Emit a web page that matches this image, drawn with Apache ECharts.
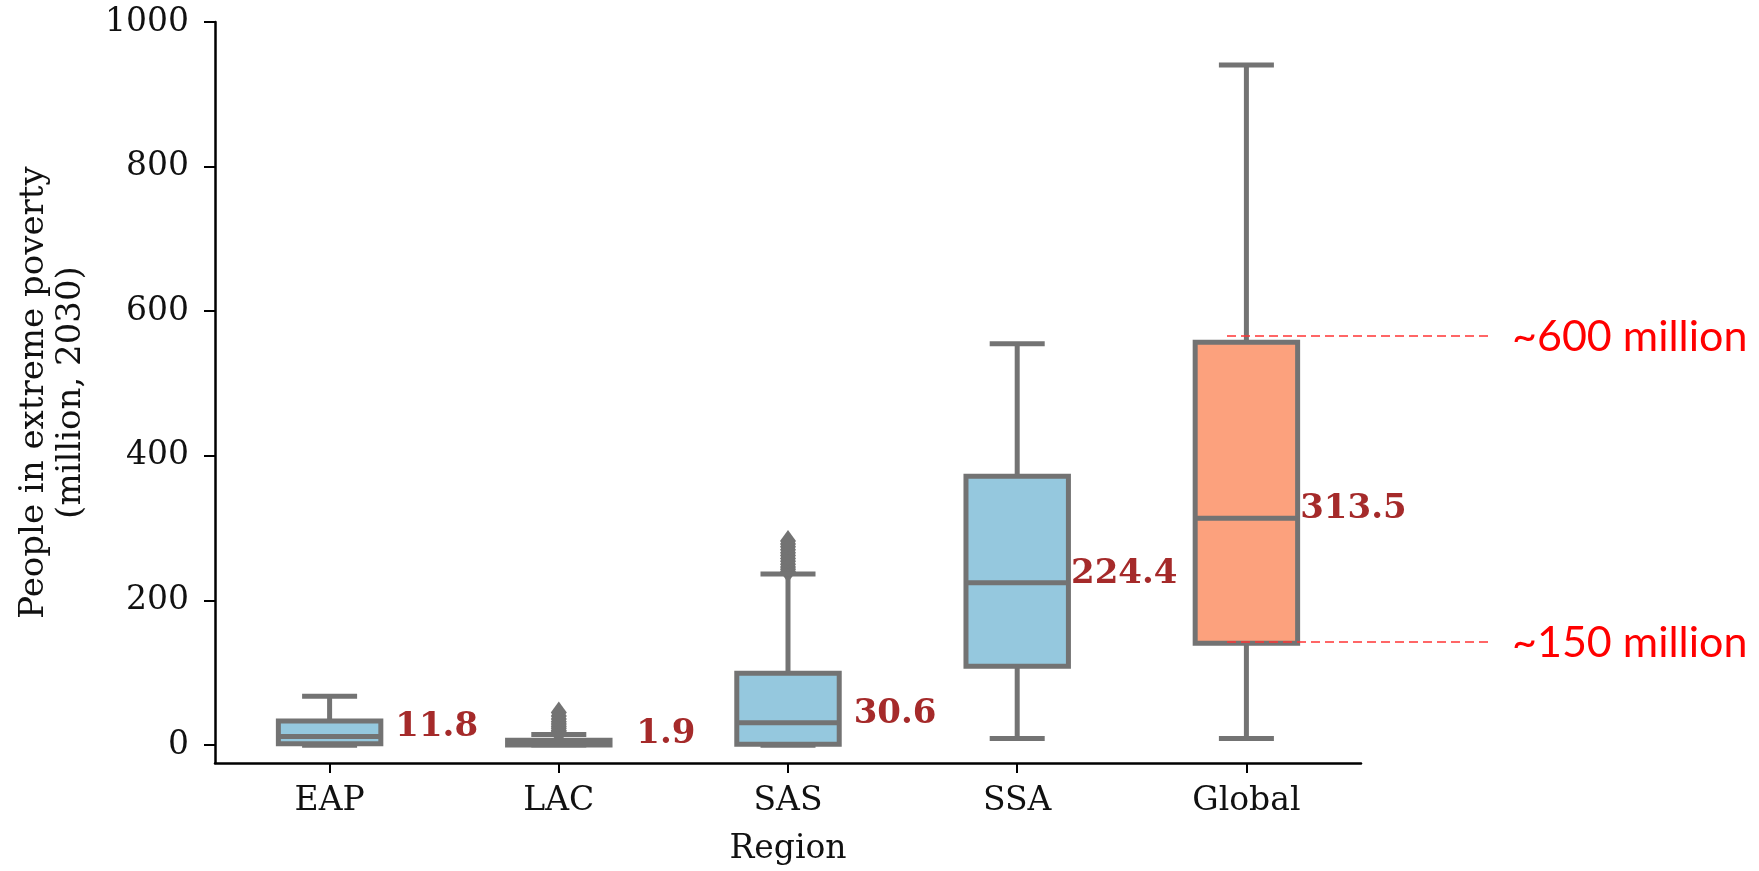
<!DOCTYPE html>
<html>
<head>
<meta charset="utf-8">
<script src="https://cdn.jsdelivr.net/npm/echarts@6/dist/echarts.min.js"></script>
<style>
html,body{margin:0;padding:0;background:#ffffff;}
#chart{width:1759px;height:871px;}
</style>
</head>
<body>
<div id="chart"></div>
<script>
// ---- data ----
const categories   = ['EAP', 'LAC', 'SAS', 'SSA', 'Global'];
const whiskerLow   = [-0.5, 0, -0.5, 9, 9];
const quartile1    = [1.5, 0, 1, 109, 140.5];
const medians      = [11.8, 1.9, 30.6, 224.4, 313.5];
const quartile3    = [33, 6.5, 99, 371.5, 557];
const whiskerHigh  = [67.5, 14.5, 236.5, 555, 940.5];
const medianLabels = ['11.8', '1.9', '30.6', '224.4', '313.5'];
const lacOutliers  = [16, 18, 20, 23, 26, 29, 32, 36, 40, 45];
const sasOutliers  = [240, 243, 246, 250, 254, 258, 262, 266, 270, 274, 278, 282];
const yTicks       = [0, 200, 400, 600, 800, 1000];
const annotValues  = [565.5, 142.5];
const annotLabels  = ['~600 million', '~150 million'];

// ---- styles ----
const boxFill = ['#95c8de', '#95c8de', '#95c8de', '#95c8de', '#fca17d'];
const gray = '#737373';
const serif = 'DejaVu Serif';
const textColor = '#111111';

const boxData = categories.map((c, i) =>
  [i, whiskerLow[i], quartile1[i], medians[i], quartile3[i], whiskerHigh[i]]);
const outlierData = []
  .concat(lacOutliers.map(v => [1, v]))
  .concat(sasOutliers.map(v => [2, v]));

function renderBox(params, api) {
  const i = api.value(0);
  const lo = api.coord([i, api.value(1)]);
  const b  = api.coord([i, api.value(2)]);
  const m  = api.coord([i, api.value(3)]);
  const t  = api.coord([i, api.value(4)]);
  const hi = api.coord([i, api.value(5)]);
  const band = api.size([1, 0])[0];
  const bw = band * 0.447;
  const cw = band * 0.24;
  const x = lo[0];
  const lw = 5;
  const st = {stroke: gray, lineWidth: lw};
  return {
    type: 'group',
    children: [
      {type: 'line', shape: {x1: x, y1: t[1], x2: x, y2: hi[1]}, style: st},
      {type: 'line', shape: {x1: x, y1: b[1], x2: x, y2: lo[1]}, style: st},
      {type: 'line', shape: {x1: x - cw / 2, y1: hi[1], x2: x + cw / 2, y2: hi[1]}, style: st},
      {type: 'line', shape: {x1: x - cw / 2, y1: lo[1], x2: x + cw / 2, y2: lo[1]}, style: st},
      {type: 'rect', shape: {x: x - bw / 2, y: t[1], width: bw, height: b[1] - t[1]},
        style: {fill: boxFill[params.dataIndex], stroke: gray, lineWidth: lw}},
      {type: 'line', shape: {x1: x - bw / 2, y1: m[1], x2: x + bw / 2, y2: m[1]}, style: st},
      {type: 'text', x: x + band * 0.467, y: m[1] - 9,
        style: {text: medianLabels[params.dataIndex], fill: '#a52a2a',
          font: 'bold 34px "' + serif + '"', align: 'center', verticalAlign: 'middle'}}
    ]
  };
}

const chart = echarts.init(document.getElementById('chart'), null, {renderer: 'canvas'});
chart.setOption({
  animation: false,
  backgroundColor: '#ffffff',
  grid: {left: 215, right: 398, top: 22, bottom: 105, containLabel: false},
  xAxis: {
    type: 'category',
    data: categories,
    boundaryGap: true,
    axisLine: {show: true, onZero: false, lineStyle: {color: '#000', width: 2.5}},
    axisTick: {show: true, alignWithLabel: true, length: 10, lineStyle: {color: '#000', width: 2}},
    axisLabel: {fontFamily: serif, fontSize: 33, color: textColor, margin: 22},
    splitLine: {show: false},
    name: 'Region',
    nameLocation: 'middle',
    nameGap: 70,
    nameTextStyle: {fontFamily: serif, fontSize: 33, color: textColor}
  },
  yAxis: {
    type: 'value',
    min: -25,
    max: 1000,
    axisLine: {show: true, lineStyle: {color: '#000', width: 2.5}},
    axisTick: {show: true, length: 11, lineStyle: {color: '#000', width: 2}, customValues: yTicks},
    axisLabel: {customValues: yTicks, fontFamily: serif, fontSize: 33, color: textColor, margin: 26,
      formatter: v => String(v)},
    splitLine: {show: false},
    name: 'People in extreme poverty\n(million, 2030)',
    nameLocation: 'middle',
    nameRotate: 90,
    nameGap: 125,
    nameTextStyle: {fontFamily: serif, fontSize: 34, lineHeight: 37, color: textColor, align: 'center'}
  },
  series: [
    {
      type: 'scatter',
      data: outlierData,
      symbol: 'diamond',
      symbolSize: [16, 22],
      itemStyle: {color: gray, opacity: 1},
      z: 2
    },
    {
      type: 'custom',
      data: boxData,
      renderItem: renderBox,
      encode: {x: 0, y: [1, 2, 3, 4, 5]},
      clip: false,
      z: 3
    }
  ]
});

// annotations: y positions from the axis scale
const annotGraphics = [];
annotValues.forEach((v, k) => {
  const y = chart.convertToPixel({yAxisIndex: 0}, v);
  annotGraphics.push({
    type: 'line', z: 100,
    shape: {x1: 1227, y1: y, x2: 1492, y2: y},
    style: {stroke: '#ff3434', lineWidth: 1.5, lineDash: [9, 5]}
  });
  annotGraphics.push({
    type: 'text', z: 100, x: 1512, y: y + 1,
    style: {text: annotLabels[k], fill: '#ff0000', font: '43px Lato', align: 'left', verticalAlign: 'middle'}
  });
});
chart.setOption({graphic: annotGraphics});
</script>
</body>
</html>
